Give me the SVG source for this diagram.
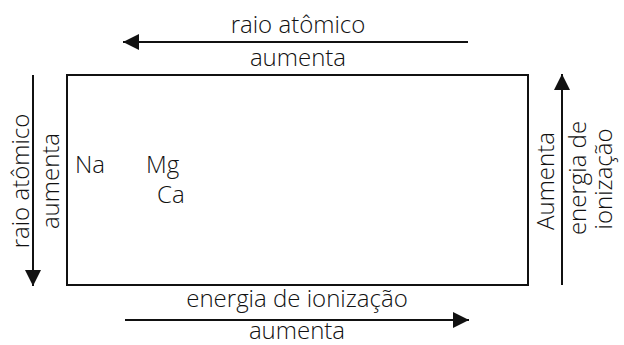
<svg xmlns="http://www.w3.org/2000/svg" width="624" height="345" viewBox="0 0 624 345">
<defs>
<style>
text{font-family:"Open Sans","Noto Sans",sans-serif;font-size:24px;font-weight:300;fill:#111;}
.c{text-anchor:middle;}
.ln{stroke:#111;stroke-width:2;fill:none;}
</style>
<marker id="ah" viewBox="0 0 10 10" refX="10" refY="5" markerWidth="16" markerHeight="16" markerUnits="userSpaceOnUse" orient="auto">
<path d="M0,0 L10,5 L0,10 Z" fill="#111"/>
</marker>
</defs>
<g id="table">
<rect x="67" y="75" width="461" height="210" class="ln"/>
</g>
<g id="connectors">
<line x1="468" y1="42" x2="123" y2="42" class="ln" marker-end="url(#ah)"/>
<line x1="33" y1="75" x2="33" y2="286" class="ln" marker-end="url(#ah)"/>
<line x1="562" y1="285" x2="562" y2="74" class="ln" marker-end="url(#ah)"/>
<line x1="125" y1="320" x2="469" y2="320" class="ln" marker-end="url(#ah)"/>
</g>
<g id="labels">
<text class="c" x="298" y="33">raio atômico</text>
<text class="c" x="298" y="66">aumenta</text>
<text class="c" x="297" y="307">energia de ionização</text>
<text class="c" x="297" y="339">aumenta</text>
<text class="c" transform="translate(29,181) rotate(-90)">raio atômico</text>
<text class="c" transform="translate(59,181) rotate(-90)">aumenta</text>
<text class="c" transform="translate(554,181) rotate(-90)">Aumenta</text>
<text class="c" transform="translate(586,178) rotate(-90)">energia de</text>
<text class="c" transform="translate(612,179) rotate(-90)">ionização</text>
</g>
<g id="Na"><text x="75" y="173">Na</text></g>
<g id="Mg"><text x="146" y="173">Mg</text></g>
<g id="Ca"><text x="157" y="203">Ca</text></g>
</svg>
